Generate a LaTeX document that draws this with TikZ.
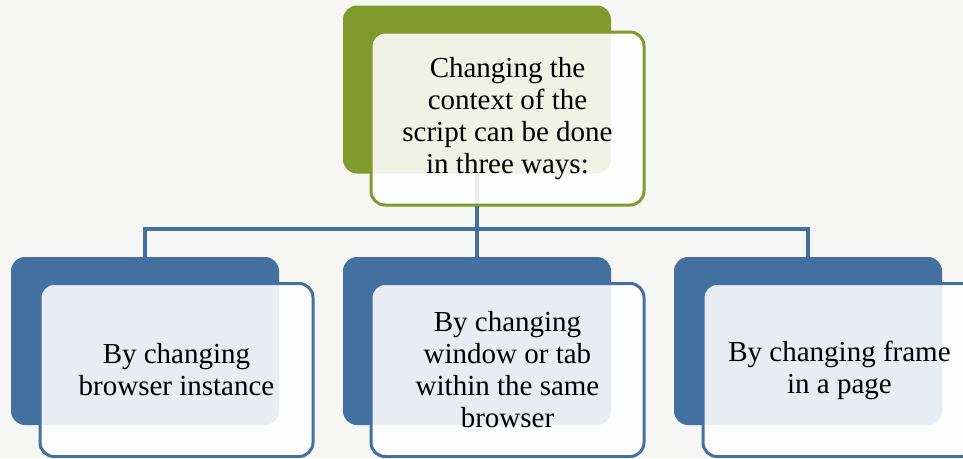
\documentclass[tikz,border=0pt]{standalone}
\usepackage{fontspec}
\setmainfont{Liberation Serif}
\definecolor{bgc}{HTML}{F6F6F5}
\definecolor{olive}{HTML}{819A2E}
\definecolor{steel}{HTML}{43709E}
\tikzset{
  backbox/.style={rounded corners=14pt, minimum width=268pt, minimum height=168pt, inner sep=0pt},
  frontbox/.style={rounded corners=14pt, minimum width=273pt, minimum height=173pt, inner sep=0pt,
     fill=white, fill opacity=0.88, text opacity=1, line width=3pt, align=center,
     font=\fontsize{29}{32}\selectfont},
  conn/.style={draw=steel, line width=3.2pt},
}
\begin{document}
\begin{tikzpicture}[x=1pt,y=-1pt]
\fill[bgc] (0,0) rectangle (963,458);
\clip (0,0) rectangle (963,458);
\coordinate (bus) at (0,229);
% back boxes
\node[backbox, fill=olive] (tb) at (477,89.5) {};
\node[backbox, fill=steel] (lb) at (145,341) {};
\node[backbox, fill=steel] (mb) at (477,341) {};
\node[backbox, fill=steel] (rb) at (808,341) {};
% connectors
\draw[conn] (tb.south) -- (mb.north);
\draw[conn] (lb.north) -- (lb.north |- bus) -- (rb.north |- bus) -- (rb.north);
% front boxes
\node[frontbox, draw=olive] (tf) at (507.5,118.5) {Changing the\\context of the\\script can be done\\in three ways:};
\node[frontbox, draw=steel] (lf) at (176.5,370) {By changing\\browser instance};
\node[frontbox, draw=steel] (mf) at (507.5,370) {By changing\\window or tab\\within the same\\browser};
\node[frontbox, draw=steel] (rf) at (839.5,370) {By changing frame\\in a page};
\end{tikzpicture}
\end{document}
